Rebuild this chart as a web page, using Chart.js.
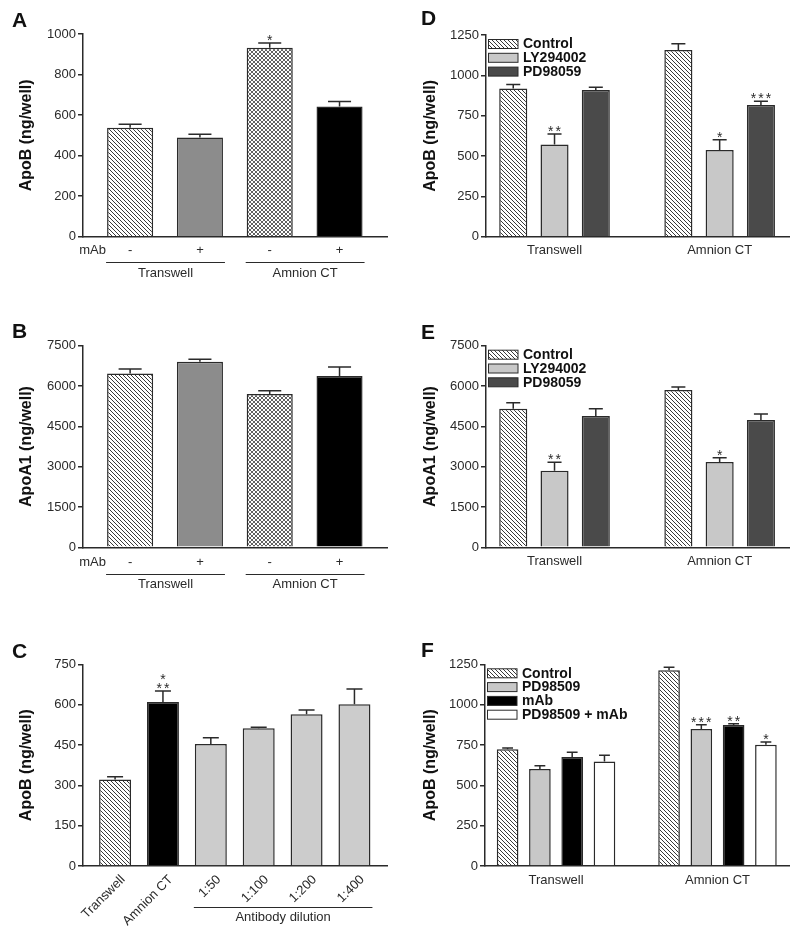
<!DOCTYPE html>
<html>
<head>
<meta charset="utf-8">
<script src="https://cdn.jsdelivr.net/npm/chart.js@4.4.1/dist/chart.umd.min.js"></script>
<style>
  body { margin: 0; background: #fff; }
  #fig { position: relative; width: 800px; height: 940px; }
  #fig canvas { position: absolute; }
</style>
</head>
<body>
<div id="fig">
  <canvas id="chartA" width="400" height="300" style="left:0;top:0"></canvas>
  <canvas id="chartB" width="400" height="310" style="left:0;top:300px"></canvas>
  <canvas id="chartC" width="400" height="330" style="left:0;top:610px"></canvas>
  <canvas id="chartD" width="400" height="300" style="left:400px;top:0"></canvas>
  <canvas id="chartE" width="400" height="310" style="left:400px;top:300px"></canvas>
  <canvas id="chartF" width="400" height="330" style="left:400px;top:610px"></canvas>
</div>
<script>
// --- data ---
// A / B: Transwell vs Amnion CT, with and without mAb
const mAbTicks = ['-', '+', '-', '+'];
const cultureGroups = ['Transwell', 'Amnion CT'];
const apoBMeans = [537, 489, 932, 642];
const apoBSem = [18, 17, 23, 25];
const apoBStars = ['', '', '*', ''];
const apoA1Means = [6470, 6905, 5700, 6370];
const apoA1Sem = [160, 95, 125, 340];

// C: antibody dilution series
const dilutionTicks = ['Transwell', 'Amnion CT', '1:50', '1:100', '1:200', '1:400'];
const dilutionMeans = [322, 610, 454, 512, 564, 601];
const dilutionSem = [10, 41, 23, 4, 16, 57];
const dilutionStars = ['', ['*', '**'], '', '', '', ''];

// D / E: kinase inhibitors
const inhibitorNames = ['Control', 'LY294002', 'PD98059'];
const dControl = [919, 1157];
const dControlSem = [25, 39];
const dLY = [572, 537];
const dLYSem = [64, 64];
const dPD = [909, 816];
const dPDSem = [17, 23];
const dLYStars = ['**', '*'];
const dPDStars = ['', '***'];

const eControl = [5157, 5851];
const eControlSem = [223, 112];
const eLY = [2851, 3174];
const eLYSem = [310, 161];
const ePD = [4884, 4736];
const ePDSem = [273, 223];
const eLYStars = ['**', '*'];

// F: PD98509 and mAb
const fNames = ['Control', 'PD98509', 'mAb', 'PD98509 + mAb'];
const fControl = [723, 1213];
const fControlSem = [8, 18];
const fPD = [601, 849];
const fPDSem = [21, 27];
const fMAb = [676, 874];
const fMAbSem = [29, 8];
const fBoth = [647, 752];
const fBothSem = [39, 17];
const fPDStars = ['', '***'];
const fMAbStars = ['', '**'];
const fBothStars = ['', '*'];

const FONT = 'Arial, "Liberation Sans", Helvetica, sans-serif';
const INK = '#2a2a2a';

function hatch(cross) {
    const c = document.createElement('canvas');
    c.width = c.height = 4;
    const g = c.getContext('2d');
    g.fillStyle = '#fff';
    g.fillRect(0, 0, 4, 4);
    g.strokeStyle = '#3a3a3a';
    g.lineWidth = cross ? 0.8 : 1;
    g.beginPath();
    g.moveTo(-1, -1); g.lineTo(5, 5);
    g.moveTo(-1, 3); g.lineTo(1, 5);
    g.moveTo(3, -1); g.lineTo(5, 1);
    if (cross) {
        g.moveTo(-1, 5); g.lineTo(5, -1);
        g.moveTo(-1, 1); g.lineTo(1, -1);
        g.moveTo(3, 5); g.lineTo(5, 3);
    }
    g.stroke();
    return g.createPattern(c, 'repeat');
}
const stripes = hatch(false);
const crossed = hatch(true);

// error bars, stars, legend, group labels
const annotate = {
    id: 'annotate',
    afterDatasetsDraw(chart) {
        const ctx = chart.ctx;
        const y = chart.scales.y;
        ctx.save();
        chart.data.datasets.forEach((ds, di) => {
            chart.getDatasetMeta(di).data.forEach((bar, i) => {
                const top = y.getPixelForValue(ds.data[i] + ds.errors[i]);
                const half = bar.width / 4;
                ctx.strokeStyle = INK;
                ctx.lineWidth = 1.5;
                ctx.beginPath();
                ctx.moveTo(bar.x, bar.y);
                ctx.lineTo(bar.x, top);
                ctx.moveTo(bar.x - half, top);
                ctx.lineTo(bar.x + half, top);
                ctx.stroke();
                const s = ds.stars[i];
                if (!s) return;
                const lines = Array.isArray(s) ? s : [s];
                ctx.fillStyle = INK;
                ctx.font = '14px ' + FONT;
                ctx.textAlign = 'center';
                ctx.textBaseline = 'alphabetic';
                lines.slice().reverse().forEach((ln, k) => {
                    for (let j = 0; j < ln.length; j++) {
                        ctx.fillText('*', bar.x + (j - (ln.length - 1) / 2) * 7.5, top + 2 - k * 8.5);
                    }
                });
            });
        });
        ctx.restore();
    },
    afterDraw(chart, args, o) {
        const ctx = chart.ctx;
        const area = chart.chartArea;
        ctx.save();
        ctx.fillStyle = '#111';
        ctx.font = 'bold 21px ' + FONT;
        ctx.textAlign = 'left';
        ctx.textBaseline = 'alphabetic';
        ctx.fillText(o.letter, o.letterAt[0], o.letterAt[1]);

        const bars = chart.getDatasetMeta(0).data;
        ctx.font = '13px ' + FONT;
        ctx.fillStyle = INK;
        ctx.strokeStyle = INK;
        ctx.lineWidth = 1;
        (o.groups || []).forEach(g => {
            const l = bars[g.from].x - bars[g.from].width / 2 - 1;
            const r = bars[g.to].x + bars[g.to].width / 2 + 2;
            const ly = Math.round(area.bottom + o.lineDy) + 0.5;
            ctx.beginPath();
            ctx.moveTo(l, ly);
            ctx.lineTo(r, ly);
            ctx.stroke();
            ctx.textAlign = 'center';
            ctx.textBaseline = 'middle';
            ctx.fillText(g.text, (l + r) / 2, area.bottom + o.textDy);
        });
        if (o.rowLabel) {
            ctx.textAlign = 'right';
            ctx.textBaseline = 'middle';
            ctx.fillText(o.rowLabel, area.left + 23, area.bottom + o.rowDy);
        }
        if (o.legend) {
            chart.data.datasets.forEach((ds, i) => {
                const cy = area.top + 9 + i * 13.8;
                ctx.fillStyle = ds.backgroundColor;
                ctx.fillRect(area.left + 2, cy - 4.5, 30, 9);
                ctx.lineWidth = 1;
                ctx.strokeStyle = INK;
                ctx.strokeRect(area.left + 2.5, cy - 4.5, 29.5, 9);
                ctx.fillStyle = '#111';
                ctx.font = 'bold 14px ' + FONT;
                ctx.textAlign = 'left';
                ctx.textBaseline = 'middle';
                ctx.fillText(ds.label, area.left + 37, cy + 0.5);
            });
        }
        ctx.restore();
    }
};

function makeChart(id, spec) {
    const canvas = document.getElementById(id);
    const W = canvas.width;
    const H = canvas.height;
    const a = spec.area;
    return new Chart(canvas, {
        type: 'bar',
        data: {
            labels: spec.ticks.map((_, i) => i),
            datasets: spec.datasets.map(d => ({
                label: d.label,
                data: d.data,
                errors: d.errors,
                stars: d.stars || [],
                backgroundColor: d.color,
                borderColor: INK,
                borderWidth: 1.5,
                categoryPercentage: spec.catPct,
                barPercentage: spec.barPct,
            })),
        },
        options: {
            responsive: false,
            animation: false,
            events: [],
            layout: { padding: { left: 0, top: a.t, right: W - a.r, bottom: 0 } },
            plugins: {
                legend: { display: false },
                tooltip: { enabled: false },
                annotate: spec.notes,
            },
            scales: {
                x: {
                    type: 'linear',
                    offset: false,
                    bounds: 'data',
                    min: spec.xRange[0],
                    max: spec.xRange[1],
                    grid: { display: false, drawTicks: false },
                    border: { color: INK, width: 1.5 },
                    afterBuildTicks: s => { s.ticks = spec.ticks.map((_, i) => ({ value: i })); },
                    ticks: {
                        autoSkip: false,
                        minRotation: spec.rotate || 0,
                        maxRotation: spec.rotate || 0,
                        padding: spec.tickPad,
                        labelOffset: spec.labelShift || 0,
                        color: INK,
                        font: { family: FONT, size: 13 },
                        callback: v => spec.ticks[v] ?? '',
                    },
                    afterFit: s => { s.height = H - a.b; },
                },
                y: {
                    min: 0,
                    max: spec.yMax,
                    grid: { drawOnChartArea: false, drawTicks: true, tickLength: 5, color: INK, lineWidth: 1.5 },
                    border: { color: INK, width: 1.5 },
                    ticks: {
                        stepSize: spec.yStep,
                        padding: 2,
                        color: INK,
                        font: { family: FONT, size: 13 },
                        callback: v => String(v),
                    },
                    title: {
                        display: true,
                        text: spec.yTitle,
                        color: '#111',
                        font: { family: FONT, size: 16, weight: 'bold' },
                        padding: { top: spec.titlePad, bottom: 0 },
                    },
                    afterFit: s => { s.width = a.l; },
                },
            },
        },
        plugins: [annotate],
    });
}

const groupsAB = [
    { text: cultureGroups[0], from: 0, to: 1 },
    { text: cultureGroups[1], from: 2, to: 3 },
];

makeChart('chartA', {
    area: { l: 83, t: 34, r: 387, b: 236.7 },
    ticks: mAbTicks, xRange: [-0.675, 3.68], tickPad: 5.5,
    yMax: 1000, yStep: 200, yTitle: 'ApoB (ng/well)', titlePad: 17.4,
    catPct: 1, barPct: 0.66,
    datasets: [{ data: apoBMeans, errors: apoBSem, stars: apoBStars, color: [stripes, '#8c8c8c', crossed, '#000'] }],
    notes: { letter: 'A', letterAt: [12, 27], groups: groupsAB, lineDy: 25.6, textDy: 36.6, rowLabel: 'mAb', rowDy: 13.3 },
});

makeChart('chartB', {
    area: { l: 83, t: 45.7, r: 387, b: 247.3 },
    ticks: mAbTicks, xRange: [-0.675, 3.68], tickPad: 7.5,
    yMax: 7500, yStep: 1500, yTitle: 'ApoA1 (ng/well)', titlePad: 17,
    catPct: 1, barPct: 0.66,
    datasets: [{ data: apoA1Means, errors: apoA1Sem, color: [stripes, '#8c8c8c', crossed, '#000'] }],
    notes: { letter: 'B', letterAt: [12, 38], groups: groupsAB, lineDy: 26.7, textDy: 36.7, rowLabel: 'mAb', rowDy: 15.4 },
});

makeChart('chartC', {
    area: { l: 83, t: 54.3, r: 387, b: 256 },
    ticks: dilutionTicks, xRange: [-0.67, 5.68], tickPad: 6, rotate: 45, labelShift: 8,
    yMax: 750, yStep: 150, yTitle: 'ApoB (ng/well)', titlePad: 17.4,
    catPct: 1, barPct: 0.668,
    datasets: [{ data: dilutionMeans, errors: dilutionSem, stars: dilutionStars,
        color: [stripes, '#000', '#cccccc', '#cccccc', '#cccccc', '#cccccc'] }],
    notes: { letter: 'C', letterAt: [12, 48], groups: [{ text: 'Antibody dilution', from: 2, to: 5 }], lineDy: 40.7, textDy: 51 },
});

makeChart('chartD', {
    area: { l: 86, t: 35, r: 389, b: 236.7 },
    ticks: cultureGroups, xRange: [-0.415, 1.42], tickPad: 5.5,
    yMax: 1250, yStep: 250, yTitle: 'ApoB (ng/well)', titlePad: 21.4,
    catPct: 0.75, barPct: 0.68,
    datasets: [
        { label: inhibitorNames[0], data: dControl, errors: dControlSem, color: stripes },
        { label: inhibitorNames[1], data: dLY, errors: dLYSem, stars: dLYStars, color: '#c8c8c8' },
        { label: inhibitorNames[2], data: dPD, errors: dPDSem, stars: dPDStars, color: '#4a4a4a' },
    ],
    notes: { letter: 'D', letterAt: [21, 25], legend: true },
});

makeChart('chartE', {
    area: { l: 86, t: 45.7, r: 389, b: 247.3 },
    ticks: cultureGroups, xRange: [-0.415, 1.42], tickPad: 6.6,
    yMax: 7500, yStep: 1500, yTitle: 'ApoA1 (ng/well)', titlePad: 21.4,
    catPct: 0.75, barPct: 0.68,
    datasets: [
        { label: inhibitorNames[0], data: eControl, errors: eControlSem, color: stripes },
        { label: inhibitorNames[1], data: eLY, errors: eLYSem, stars: eLYStars, color: '#c8c8c8' },
        { label: inhibitorNames[2], data: ePD, errors: ePDSem, color: '#4a4a4a' },
    ],
    notes: { letter: 'E', letterAt: [21, 39], legend: true },
});

makeChart('chartF', {
    area: { l: 85, t: 54.3, r: 389, b: 256 },
    ticks: cultureGroups, xRange: [-0.44, 1.443], tickPad: 6.9,
    yMax: 1250, yStep: 250, yTitle: 'ApoB (ng/well)', titlePad: 21.4,
    catPct: 0.8, barPct: 0.67,
    datasets: [
        { label: fNames[0], data: fControl, errors: fControlSem, color: stripes },
        { label: fNames[1], data: fPD, errors: fPDSem, stars: fPDStars, color: '#c8c8c8' },
        { label: fNames[2], data: fMAb, errors: fMAbSem, stars: fMAbStars, color: '#000' },
        { label: fNames[3], data: fBoth, errors: fBothSem, stars: fBothStars, color: '#fff' },
    ],
    notes: { letter: 'F', letterAt: [21, 47], legend: true },
});
</script>
</body>
</html>
